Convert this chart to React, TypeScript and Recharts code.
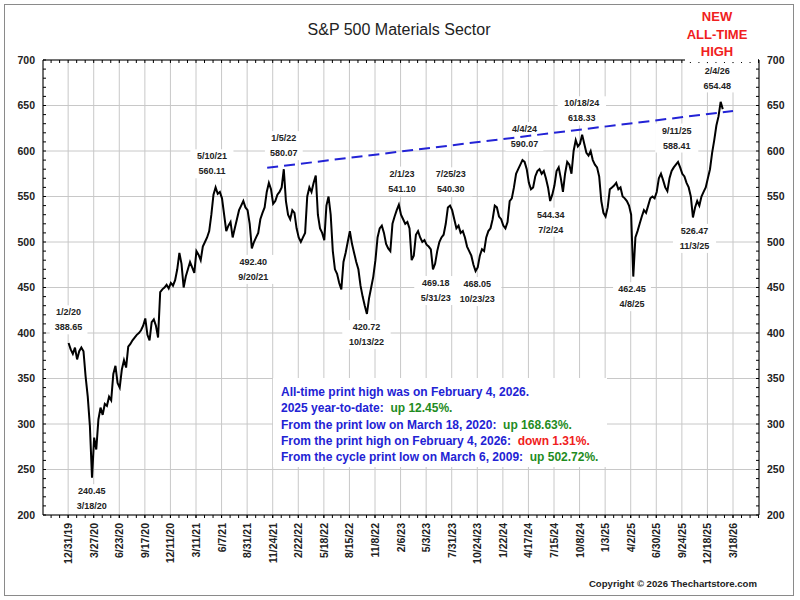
import React from 'react';
import {
  ComposedChart, Line, XAxis, YAxis, CartesianGrid, ReferenceLine, ReferenceDot,
} from 'recharts';

// ── data (weekly closes; one value every 5 trading days) ──

const P2020 = [
  389, 382, 377, 384, 371, 380, 384, 380, 352, 330,
  298, 241, 285, 272, 305, 318, 310, 322, 320, 330,
  326, 355, 364, 345, 340, 360, 370, 362, 385, 388,
  392, 395, 398, 400, 403, 408, 416, 398, 392, 412,
  415, 408, 395, 445, 448, 450, 453, 449, 455, 452,
  458,
];
const P2021 = [
  470, 488, 476, 450, 462, 470, 478, 472, 466,
  490, 486, 480, 495, 500, 505, 512, 530, 552, 560,
  553, 555, 548, 530, 512, 518, 522, 505, 515, 525,
  535, 540, 545, 538, 535, 520, 493, 500, 505, 510,
  525, 532, 538, 555, 565, 558, 542, 545, 552, 555,
  560,
];
const P2022 = [
  580, 545, 530, 525, 535, 532, 515, 505, 500,
  505, 510, 550, 560, 555, 565, 573, 530, 515, 510,
  502, 540, 550, 530, 490, 470, 465, 455, 448, 478,
  488, 500, 512, 498, 488, 478, 470, 452, 440, 430,
  421, 438, 450, 462, 480, 505, 515, 518, 510, 498,
  493,
];
const P2023 = [
  490, 520, 528, 535, 541, 530, 525, 520, 522,
  515, 480, 485, 508, 512, 505, 500, 502, 497, 495,
  492, 470, 476, 490, 500, 505, 508, 520, 538, 540,
  535, 525, 515, 518, 510, 512, 505, 495, 490, 485,
  475, 468, 472, 485, 492, 490, 505, 512, 515, 525,
  540,
];
const P2024 = [
  538, 528, 525, 518, 515, 522, 545, 548, 560,
  575, 580, 585, 590, 588, 580, 565, 558, 560, 572,
  578, 580, 575, 578, 570, 560, 545, 552, 562, 578,
  582, 570, 555, 575, 588, 585, 575, 600, 612, 605,
  608, 618, 608, 598, 595, 600, 590, 585, 582, 572,
  545, 532,
];
const P2025 = [
  528, 538, 558, 560, 562, 565, 558, 560,
  550, 548, 545, 540, 530, 462, 505, 512, 520, 528,
  535, 532, 540, 548, 550, 548, 555, 570, 575, 568,
  560, 556, 570, 578, 582, 585, 588, 582, 575, 572,
  565, 560, 550, 527, 538, 545, 540, 550, 555, 560,
  570, 580,
];
const P2026 = [598, 612, 628, 638, 654, 646];

const WEEKLY = [...P2020, ...P2021, ...P2022, ...P2023, ...P2024, ...P2025, ...P2026];
// x = trading-day index counted from 12/31/19
const data = WEEKLY.map((v, k) => ({ t: 1 + k * 5, v }));

const X_LABELS = [
  '12/31/19', '3/27/20', '6/23/20', '9/17/20', '12/11/20', '3/11/21', '6/7/21',
  '8/31/21', '11/24/21', '2/22/22', '5/18/22', '8/15/22', '11/8/22', '2/6/23',
  '5/3/23', '7/31/23', '10/24/23', '1/22/24', '4/17/24', '7/15/24', '10/8/24',
  '1/3/25', '4/2/25', '6/30/25', '9/24/25', '12/18/25', '3/18/26',
];
const X_TICKS = X_LABELS.map((_, i) => i * 60);
const X_MINOR = Array.from({ length: 84 }, (_, i) => -40 + i * 20);
const Y_TICKS = [200, 250, 300, 350, 400, 450, 500, 550, 600, 650, 700];
const Y_MINOR = Array.from({ length: 51 }, (_, i) => 200 + i * 10);
const X_DOMAIN: [number, number] = [-59, 1621];
const Y_DOMAIN: [number, number] = [200, 700];

const TREND = [{ x: 467, y: 581.5 }, { x: 1560, y: 644 }];

type Note = { t: number; v: number; top: string; bottom: string; above: boolean; dx?: number };
const NOTES: Note[] = [
  { t: 1, v: 388.65, top: '1/2/20', bottom: '388.65', above: true },
  { t: 53, v: 240.45, top: '240.45', bottom: '3/18/20', above: false, dx: 1 },
  { t: 342, v: 560.11, top: '5/10/21', bottom: '560.11', above: true, dx: -2 },
  { t: 432, v: 492.40, top: '492.40', bottom: '9/20/21', above: false, dx: 1 },
  { t: 506, v: 580.07, top: '1/5/22', bottom: '580.07', above: true },
  { t: 700, v: 420.72, top: '420.72', bottom: '10/13/22', above: false },
  { t: 774, v: 541.10, top: '2/1/23', bottom: '541.10', above: true, dx: 4 },
  { t: 858, v: 469.18, top: '469.18', bottom: '5/31/23', above: false, dx: 2 },
  { t: 893, v: 540.30, top: '7/25/23', bottom: '540.30', above: true, dx: 2 },
  { t: 955, v: 468.05, top: '468.05', bottom: '10/23/23', above: false, dx: 2 },
  { t: 1066, v: 590.07, top: '4/4/24', bottom: '590.07', above: true, dx: 2 },
  { t: 1130, v: 544.34, top: '544.34', bottom: '7/2/24', above: false, dx: 1 },
  { t: 1203, v: 618.33, top: '10/18/24', bottom: '618.33', above: true, dx: 1 },
  { t: 1323, v: 462.45, top: '462.45', bottom: '4/8/25', above: false },
  { t: 1428, v: 588.41, top: '9/11/25', bottom: '588.41', above: true },
  { t: 1465, v: 526.47, top: '526.47', bottom: '11/3/25', above: false, dx: 2 },
  { t: 1530, v: 654.48, top: '2/4/26', bottom: '654.48', above: true, dx: -3 },
];

const BLUE = '#2222d4';
const GREEN = '#1f8c1f';
const RED = '#f02020';
const INFO = [
  [{ s: 'All-time print high was on February 4, 2026.', c: BLUE }],
  [{ s: '2025 year-to-date:  ', c: BLUE }, { s: 'up 12.45%.', c: GREEN }],
  [{ s: 'From the print low on March 18, 2020:  ', c: BLUE }, { s: 'up 168.63%.', c: GREEN }],
  [{ s: 'From the print high on February 4, 2026:  ', c: BLUE }, { s: 'down 1.31%.', c: RED }],
  [{ s: 'From the cycle print low on March 6, 2009:  ', c: BLUE }, { s: 'up 502.72%.', c: GREEN }],
];

// ── helpers ──────────────────────────────────────────────────────────────────

const FONT = "Arial, 'Liberation Sans', Helvetica, sans-serif";
const AXIS_TICK = { fill: '#222', fontSize: 10.5, fontWeight: 'bold', fontFamily: FONT };
const BLANK = () => '';

function XTick(props: any) {
  const { x, y, payload } = props;
  const label = X_LABELS[Math.round(payload.value / 60)];
  const ax = x + 4;
  return (
    <text
      x={ax}
      y={y}
      transform={`rotate(-90 ${ax} ${y})`}
      textAnchor="end"
      fontSize={10.5}
      fontWeight="bold"
      fill="#222"
      fontFamily={FONT}
    >
      {label}
    </text>
  );
}

function NoteShape({ cx, cy, note }: { cx: number; cy: number; note: Note }) {
  const y1 = note.above ? cy - 31 : cy + 13;
  const y2 = y1 + 15;
  const x = cx + (note.dx ?? 0);
  const w = Math.max(note.top.length, note.bottom.length) * 5.3 + 6;
  const txt = { textAnchor: 'middle' as const, fontSize: 9, fontWeight: 'bold', fill: '#222', fontFamily: FONT };
  return (
    <g>
      <rect x={x - w / 2} y={y1 - 7} width={w} height={y2 - y1 + 14} fill="#fff" />
      <text x={x} y={y1} dy="0.35em" {...txt}>{note.top}</text>
      <text x={x} y={y2} dy="0.35em" {...txt}>{note.bottom}</text>
    </g>
  );
}

// ── chart ────────────────────────────────────────────────────────────────────

export default function App() {
  return (
    <div style={{ position: 'fixed', left: 0, top: 0, width: 800, height: 600, background: '#fff' }}>
      <ComposedChart
        width={800}
        height={600}
        data={data}
        margin={{ top: 60, right: 0, bottom: 0, left: 0 }}
        style={{ position: 'absolute', left: 0, top: 0 }}
      >
        <CartesianGrid xAxisId="x" yAxisId="l" stroke="#c8c8c8" strokeWidth={1} />

        <XAxis
          xAxisId="x"
          dataKey="t"
          type="number"
          domain={X_DOMAIN}
          allowDataOverflow
          ticks={X_TICKS}
          interval={0}
          height={85}
          tickSize={3}
          tickMargin={5}
          axisLine={{ stroke: '#000' }}
          tickLine={{ stroke: '#000' }}
          tick={<XTick />}
        />
        <XAxis
          xAxisId="xm"
          dataKey="t"
          type="number"
          mirror
          domain={X_DOMAIN}
          allowDataOverflow
          ticks={X_MINOR}
          interval={0}
          tickSize={-3}
          axisLine={false}
          tickLine={{ stroke: '#000' }}
          tickFormatter={BLANK}
        />
        <XAxis
          xAxisId="top"
          dataKey="t"
          orientation="top"
          type="number"
          mirror
          domain={X_DOMAIN}
          allowDataOverflow
          ticks={X_MINOR}
          interval={0}
          tickSize={3}
          axisLine={{ stroke: '#000' }}
          tickLine={{ stroke: '#000' }}
          tickFormatter={BLANK}
        />
        <YAxis
          yAxisId="l"
          type="number"
          domain={Y_DOMAIN}
          allowDataOverflow
          ticks={Y_TICKS}
          interval={0}
          width={43}
          tickSize={0}
          tickMargin={8}
          axisLine={{ stroke: '#000' }}
          tick={AXIS_TICK}
        />
        <YAxis
          yAxisId="lm"
          type="number"
          mirror
          domain={Y_DOMAIN}
          allowDataOverflow
          ticks={Y_MINOR}
          interval={0}
          tickSize={3}
          axisLine={false}
          tickLine={{ stroke: '#000' }}
          tickFormatter={BLANK}
        />
        <YAxis
          yAxisId="r"
          orientation="right"
          type="number"
          domain={Y_DOMAIN}
          allowDataOverflow
          ticks={Y_TICKS}
          interval={0}
          width={41}
          tickSize={0}
          tickMargin={8}
          axisLine={{ stroke: '#000' }}
          tick={AXIS_TICK}
        />
        <YAxis
          yAxisId="rm"
          orientation="right"
          type="number"
          mirror
          domain={Y_DOMAIN}
          allowDataOverflow
          ticks={Y_MINOR}
          interval={0}
          tickSize={3}
          axisLine={false}
          tickLine={{ stroke: '#000' }}
          tickFormatter={BLANK}
        />

        {NOTES.map(n => (
          <ReferenceDot
            key={n.top + n.bottom}
            xAxisId="x"
            yAxisId="l"
            x={n.t}
            y={n.v}
            r={0}
            ifOverflow="visible"
            zIndex={50}
            shape={(p: any) => <NoteShape cx={p.cx} cy={p.cy} note={n} />}
          />
        ))}

        <ReferenceLine
          xAxisId="x"
          yAxisId="l"
          segment={TREND}
          stroke="#2323d6"
          strokeWidth={2}
          strokeDasharray="11 6"
          ifOverflow="visible"
          zIndex={450}
        />

        <Line
          xAxisId="x"
          yAxisId="l"
          dataKey="v"
          type="linear"
          stroke="#000"
          strokeWidth={2}
          strokeLinejoin="miter"
          dot={false}
          activeDot={false}
          isAnimationActive={false}
        />
      </ComposedChart>

      <svg
        width={800}
        height={600}
        style={{ position: 'absolute', left: 0, top: 0, pointerEvents: 'none' }}
        fontFamily={FONT}
      >
        <rect x={4.5} y={4.5} width={789} height={591} fill="none" stroke="#8a8a8a" />

        <text x={399} y={35} textAnchor="middle" fontSize={16} fill="#222">
          S&amp;P 500 Materials Sector
        </text>

        <rect x={685} y={5} width={73} height={57} fill="#fff" />
        {['NEW', 'ALL-TIME', 'HIGH'].map((s, i) => (
          <text key={s} x={717} y={21 + i * 17.5} textAnchor="middle" fontSize={13} fontWeight="bold" fill={RED}>
            {s}
          </text>
        ))}

        <rect x={273} y={378} width={334} height={89} fill="#fff" />
        {INFO.map((line, i) => (
          <text key={i} x={281} y={396 + i * 16.3} fontSize={12} fontWeight="bold" style={{ whiteSpace: 'pre' }}>
            {line.map((seg, j) => (
              <tspan key={j} fill={seg.c}>{seg.s}</tspan>
            ))}
          </text>
        ))}

        <text x={757} y={587} textAnchor="end" fontSize={9.6} fontWeight="bold" fill="#222">
          Copyright © 2026 Thechartstore.com
        </text>
      </svg>
    </div>
  );
}
